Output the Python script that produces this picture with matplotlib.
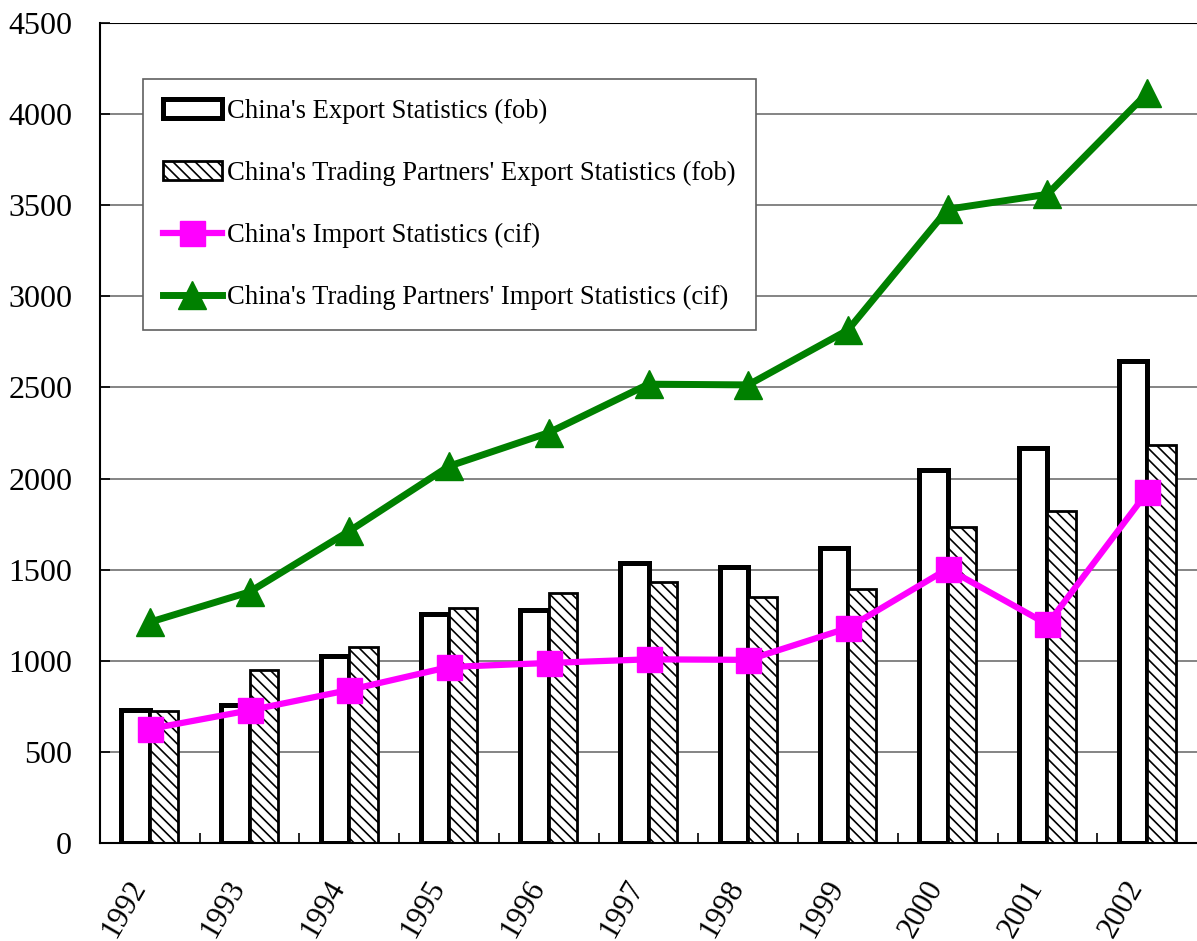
import numpy as np
import matplotlib
matplotlib.use("Agg")
import matplotlib.pyplot as plt
import matplotlib.transforms as mtransforms

years = ["1992", "1993", "1994", "1995", "1996", "1997",
         "1998", "1999", "2000", "2001", "2002"]
china_export = [730, 760, 1025, 1255, 1280, 1535, 1515, 1620, 2045, 2170, 2645]
partner_export = [722, 950, 1075, 1292, 1370, 1432, 1350, 1395, 1735, 1822, 2185]
china_import = [626, 728, 840, 966, 988, 1008, 1005, 1180, 1505, 1200, 1925]
partner_import = [1212, 1378, 1712, 2068, 2252, 2518, 2514, 2815, 3478, 3560, 4115]

plt.rcParams["font.family"] = ["Liberation Serif", "DejaVu Serif"]
plt.rcParams["hatch.linewidth"] = 1.2

fig = plt.figure(figsize=(11.97, 9.41), dpi=100)
ax = fig.add_axes([100 / 1197, 98 / 941, 1097 / 1197, 820 / 941])

x = np.arange(len(years))
w = 0.285

# grid first so bars sit on top
for v in range(500, 4500, 500):
    ax.axhline(v, color="#707070", lw=1.2, zorder=0)
ax.axhline(4500, color="black", lw=1.5, zorder=0)

b1 = ax.bar(x - w / 2, china_export, w, color="white", edgecolor="black",
            linewidth=3.6, zorder=2, label="China's Export Statistics (fob)")
b2 = ax.bar(x + w / 2, partner_export, w, color="white", edgecolor="black",
            linewidth=2.0, hatch="\\\\\\", zorder=2,
            label="China's Trading Partners' Export Statistics (fob)")
l1, = ax.plot(x, china_import, color="#FF00FF", lw=4.5, marker="s", ms=18,
              zorder=4, label="China's Import Statistics (cif)")
l2, = ax.plot(x, partner_import, color="#008000", lw=5, marker="^", ms=20,
              zorder=4, label="China's Trading Partners' Import Statistics (cif)")

ax.set_xlim(-0.5, len(years) - 0.5)
ax.set_ylim(0, 4500)
ax.set_yticks(range(0, 4501, 500))
ax.tick_params(axis="y", direction="in", length=7, width=1.2, labelsize=23, pad=20)

ax.set_xticks(x)
ax.set_xticks(np.arange(0.5, len(years) - 1, 1), minor=True)
ax.tick_params(axis="x", which="major", length=0, labelsize=22, pad=0)
ax.tick_params(axis="x", which="minor", direction="in", length=7, width=1.2)
ax.set_xticklabels(years, rotation=60, ha="center", va="center",
                   rotation_mode="anchor")
shift = mtransforms.ScaledTranslation(-26 / 100, -66 / 100, fig.dpi_scale_trans)
for lab in ax.get_xticklabels():
    lab.set_transform(lab.get_transform() + shift)

for s in ["top", "right"]:
    ax.spines[s].set_visible(False)
ax.spines["left"].set_linewidth(1.5)
ax.spines["bottom"].set_linewidth(1.5)

leg = ax.legend([b1, b2, l1, l2], [h.get_label() for h in (b1, b2, l1, l2)],
                loc="upper left", bbox_to_anchor=(143 / 1197, 1 - 79 / 941),
                bbox_transform=fig.transFigure, fontsize=19.2,
                frameon=True, fancybox=False, edgecolor="#606060",
                framealpha=1, borderpad=0.75, labelspacing=1.38,
                handlelength=2.2, handletextpad=0.2, borderaxespad=0)
leg.get_frame().set_linewidth(1.2)

fig.savefig("out.png", dpi=100)
